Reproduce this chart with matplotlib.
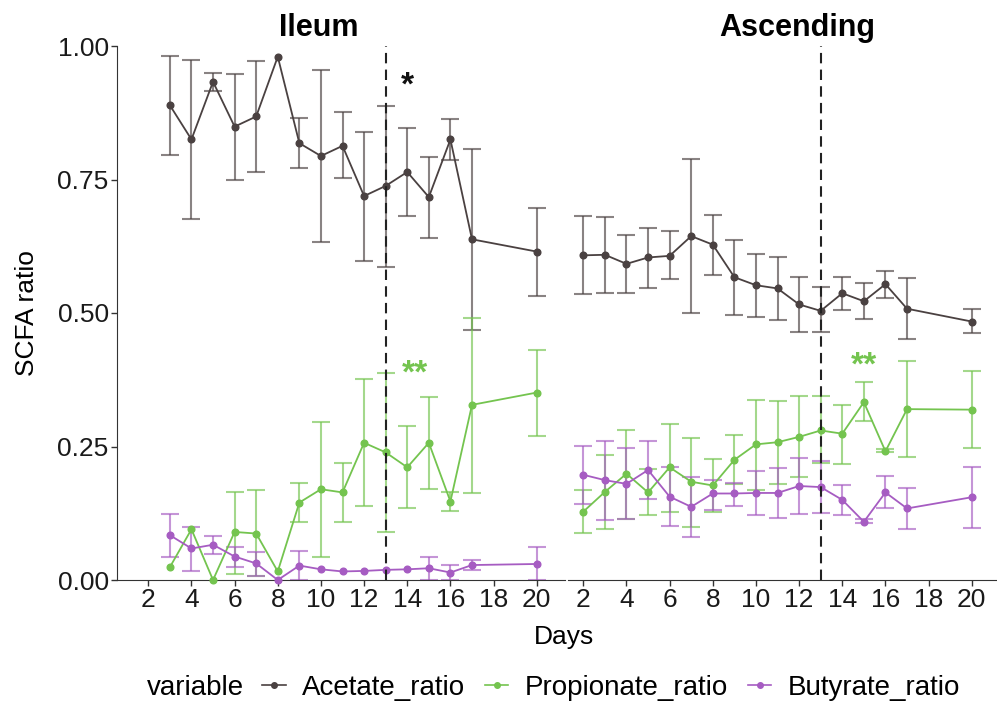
import numpy as np
import matplotlib
matplotlib.use('Agg')
import matplotlib.pyplot as plt
from matplotlib.lines import Line2D

plt.rcParams['font.family'] = ['Liberation Sans', 'DejaVu Sans']

nan = np.nan

# Ileum panel
ileum_days = [3, 4, 5, 6, 7, 8, 9, 10, 11, 12, 13, 14, 15, 16, 17, 20]
ileum_ace = [0.889, 0.825, 0.933, 0.849, 0.868, 0.980, 0.818, 0.794, 0.813, 0.719, 0.738, 0.764, 0.717, 0.825, 0.638, 0.615]
ileum_ace_lo = [0.796, 0.676, 0.916, 0.750, 0.764, nan, 0.772, 0.633, 0.752, 0.598, 0.587, 0.682, 0.640, 0.787, 0.469, 0.532]
ileum_ace_hi = [0.982, 0.974, 0.950, 0.947, 0.972, nan, 0.865, 0.955, 0.876, 0.839, 0.888, 0.847, 0.793, 0.863, 0.807, 0.697]
ileum_pro = [0.024, 0.095, 0.0, 0.090, 0.087, 0.016, 0.145, 0.170, 0.164, 0.257, 0.239, 0.211, 0.257, 0.147, 0.328, 0.351]
ileum_pro_lo = [nan, nan, nan, 0.012, 0.008, nan, 0.108, 0.044, 0.108, 0.139, 0.089, 0.134, 0.171, 0.130, 0.162, 0.270]
ileum_pro_hi = [nan, nan, nan, 0.165, 0.169, nan, 0.182, 0.296, 0.219, 0.376, 0.388, 0.288, 0.342, 0.165, 0.491, 0.431]
ileum_but = [0.084, 0.059, 0.066, 0.044, 0.031, 0.0, 0.027, 0.020, 0.016, 0.017, 0.019, 0.020, 0.022, 0.014, 0.028, 0.030]
ileum_but_lo = [0.044, 0.016, 0.049, 0.025, 0.008, nan, 0.0, nan, nan, nan, nan, nan, 0.0, 0.0, 0.019, 0.0]
ileum_but_hi = [0.124, 0.099, 0.082, 0.062, 0.053, nan, 0.055, nan, nan, nan, nan, nan, 0.044, 0.028, 0.037, 0.061]

# Ascending panel
asc_days = [2, 3, 4, 5, 6, 7, 8, 9, 10, 11, 12, 13, 14, 15, 16, 17, 20]
asc_ace = [0.608, 0.609, 0.592, 0.604, 0.607, 0.644, 0.628, 0.567, 0.552, 0.546, 0.516, 0.504, 0.537, 0.522, 0.554, 0.508, 0.484]
asc_ace_lo = [0.536, 0.537, 0.537, 0.546, 0.564, 0.500, 0.572, 0.497, 0.493, 0.486, 0.464, 0.464, 0.506, 0.489, 0.529, 0.451, 0.462]
asc_ace_hi = [0.681, 0.680, 0.647, 0.660, 0.653, 0.788, 0.683, 0.637, 0.610, 0.604, 0.568, 0.548, 0.568, 0.556, 0.579, 0.566, 0.507]
asc_pro = [0.128, 0.165, 0.199, 0.164, 0.211, 0.184, 0.177, 0.225, 0.254, 0.258, 0.268, 0.280, 0.274, 0.333, 0.241, 0.320, 0.319]
asc_pro_lo = [0.088, 0.096, 0.114, 0.121, 0.127, 0.100, 0.127, 0.179, 0.169, 0.180, 0.193, 0.220, 0.218, 0.298, 0.239, 0.231, 0.247]
asc_pro_hi = [0.169, 0.235, 0.281, 0.207, 0.292, 0.265, 0.227, 0.272, 0.338, 0.335, 0.345, 0.345, 0.328, 0.370, 0.245, 0.410, 0.392]
asc_but = [0.197, 0.187, 0.180, 0.206, 0.156, 0.137, 0.162, 0.162, 0.163, 0.163, 0.176, 0.174, 0.150, 0.109, 0.164, 0.134, 0.155]
asc_but_lo = [0.142, 0.113, 0.114, 0.152, 0.101, 0.081, 0.132, 0.139, 0.121, 0.116, 0.124, 0.125, 0.122, 0.106, 0.134, 0.096, 0.098]
asc_but_hi = [0.251, 0.260, 0.248, 0.260, 0.212, 0.193, 0.187, 0.182, 0.205, 0.210, 0.229, 0.223, 0.177, 0.114, 0.194, 0.172, 0.212]

variables = ['Acetate_ratio', 'Propionate_ratio', 'Butyrate_ratio']
colors = ['#4a4141', '#74c44f', '#a65cc2']
x_ticks = [2, 4, 6, 8, 10, 12, 14, 16, 18, 20]
y_ticks = [0.0, 0.25, 0.5, 0.75, 1.0]
y_ticklabels = ['0.00', '0.25', '0.50', '0.75', '1.00']
intervention_day = 13

fig = plt.figure(figsize=(9.97, 7.15), dpi=100)
ax1 = fig.add_axes([117/997, 1-580/715, 448/997, 534/715])
ax2 = fig.add_axes([568/997, 1-580/715, 448/997, 534/715])


def draw_panel(ax, days, series):
    days = np.array(days, dtype=float)
    for (m, lo, hi), c in zip(series, colors):
        m = np.array(m); lo = np.array(lo); hi = np.array(hi)
        ok = ~np.isnan(lo)
        ax.errorbar(days[ok], m[ok], yerr=[m[ok]-lo[ok], hi[ok]-m[ok]], fmt='none',
                    ecolor=c, alpha=0.65, elinewidth=1.5, capsize=6.8, capthick=1.5, zorder=2)
        ax.plot(days, m, '-o', color=c, lw=1.3, ms=4.8, zorder=3, clip_on=False)
    ax.axvline(intervention_day, color='#222222', lw=1.5, ls=(0, (5, 3)), zorder=4)
    ax.set_ylim(0, 1)
    ax.set_xticks(x_ticks)
    ax.tick_params(axis='both', labelsize=19, length=4, width=1, color='#333333',
                   labelcolor='#1a1a1a', pad=2)
    for s in ['top', 'right']:
        ax.spines[s].set_visible(False)
    ax.spines['bottom'].set_color('#333333')
    ax.spines['left'].set_color('#333333')


draw_panel(ax1, ileum_days, [(ileum_ace, ileum_ace_lo, ileum_ace_hi),
                             (ileum_pro, ileum_pro_lo, ileum_pro_hi),
                             (ileum_but, ileum_but_lo, ileum_but_hi)])
draw_panel(ax2, asc_days, [(asc_ace, asc_ace_lo, asc_ace_hi),
                           (asc_pro, asc_pro_lo, asc_pro_hi),
                           (asc_but, asc_but_lo, asc_but_hi)])

ax1.set_xlim(0.55, 21.31)
ax2.set_xlim(1.29, 22.05)
ax1.set_yticks(y_ticks)
ax1.set_yticklabels(y_ticklabels)
ax2.set_yticks([])
ax2.spines['left'].set_visible(False)

# significance marks
ax1.text(14, 0.925, '*', ha='center', va='center', fontsize=24, fontweight='bold', color='#111111')
ax1.text(14.35, 0.385, '**', ha='center', va='center', fontsize=24, fontweight='bold', color='#74c44f')
ax2.text(15, 0.40, '**', ha='center', va='center', fontsize=24, fontweight='bold', color='#74c44f')

# facet titles
fig.text(319/997, 1-28/715, 'Ileum', ha='center', va='center', fontsize=22, fontweight='bold')
fig.text(797/997, 1-28/715, 'Ascending', ha='center', va='center', fontsize=22, fontweight='bold')

fig.text(27/997, 1-313/715, 'SCFA ratio', rotation=90, ha='center', va='center', fontsize=19)
fig.text(564/997, 1-637/715, 'Days', ha='center', va='center', fontsize=19)

# legend
fig.text(147/997, 1-688/715, 'variable', ha='left', va='center', fontsize=20)
handles = [Line2D([0], [0], color=c, marker='o', ms=4, lw=1.2) for c in colors]
fig.legend(handles, variables, loc='center left', bbox_to_anchor=(262/997, 1-688/715), ncol=3,
           frameon=False, fontsize=20, handlelength=0.85, handletextpad=0.6,
           columnspacing=0.7, borderpad=0, borderaxespad=0)

fig.savefig('out.png', dpi=100)
